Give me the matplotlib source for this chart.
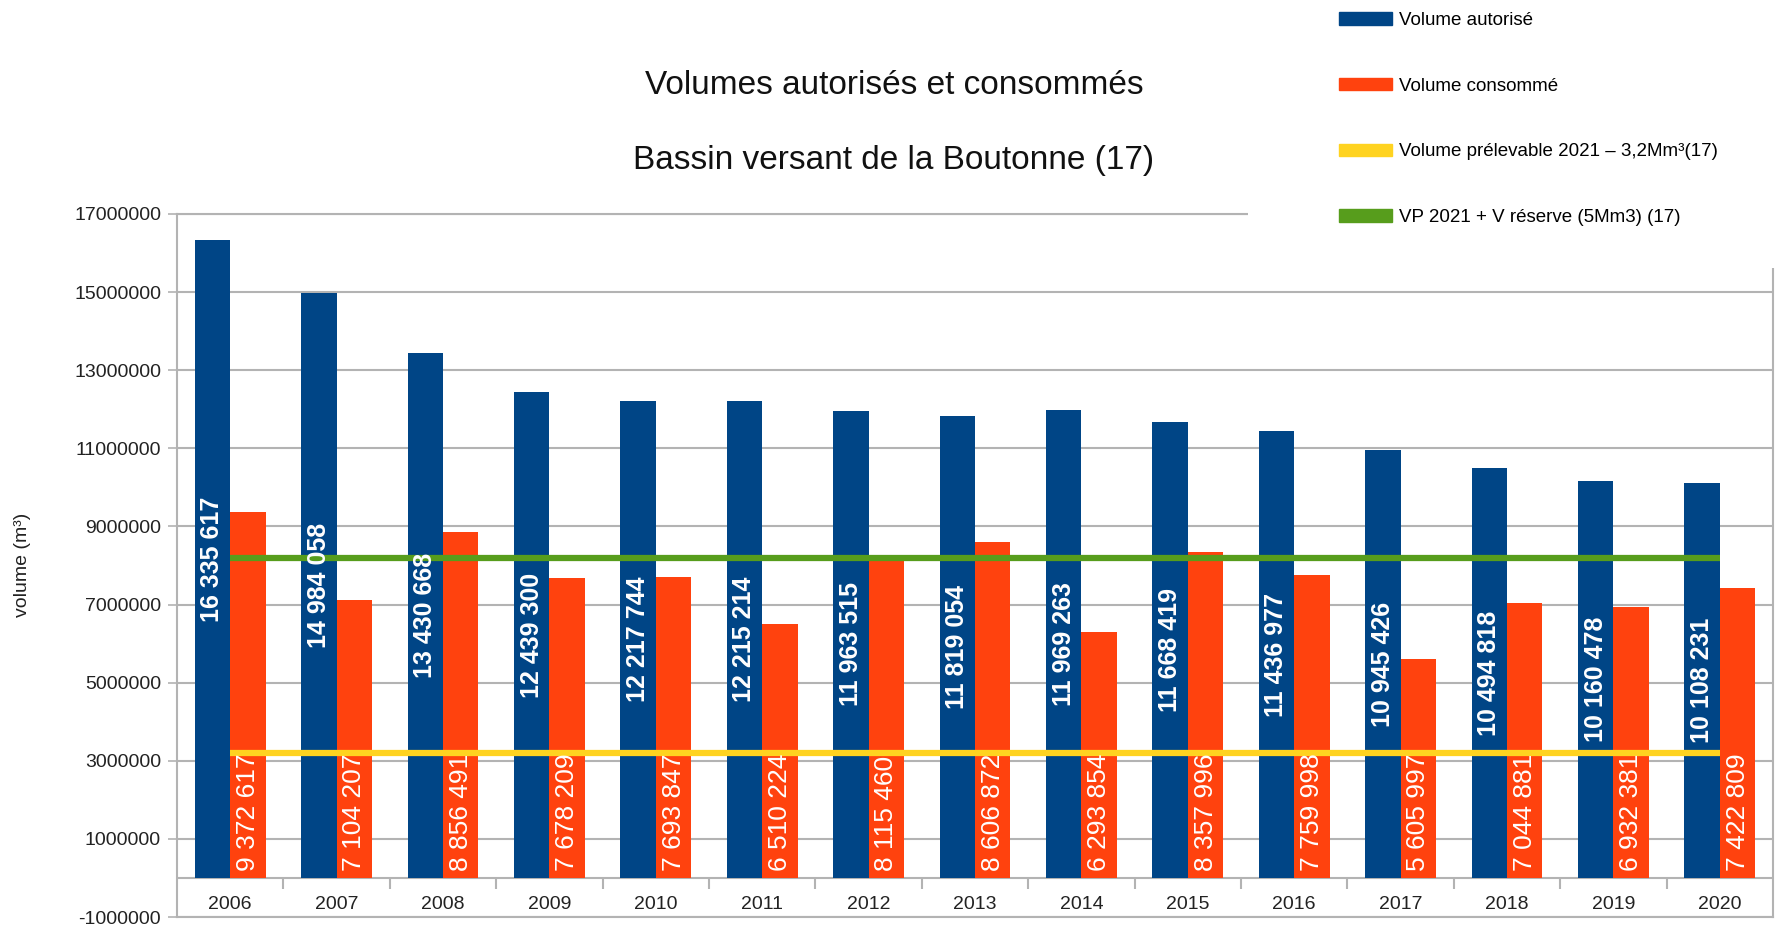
import matplotlib.pyplot as plt
from matplotlib.patches import Patch, Rectangle
from matplotlib.ticker import FuncFormatter
import numpy as np

plt.rcParams['font.family'] = ['Liberation Sans', 'DejaVu Sans']

years = ['2006', '2007', '2008', '2009', '2010', '2011', '2012', '2013',
         '2014', '2015', '2016', '2017', '2018', '2019', '2020']
vol_autorise = [16335617, 14984058, 13430668, 12439300, 12217744, 12215214, 11963515,
                11819054, 11969263, 11668419, 11436977, 10945426, 10494818, 10160478, 10108231]
vol_consomme = [9372617, 7104207, 8856491, 7678209, 7693847, 6510224, 8115460,
                8606872, 6293854, 8357996, 7759998, 5605997, 7044881, 6932381, 7422809]
vp_2021 = [3200000] * len(years)
vp_reserve = [8200000] * len(years)

labels = ['Volume autorisé', 'Volume consommé',
          'Volume prélevable 2021 – 3,2Mm³(17)', 'VP 2021 + V réserve (5Mm3) (17)']
colors = ['#004586', '#ff420e', '#ffd320', '#579d1c']
grey = '#b3b3b3'

W, H = 1779, 926
fig = plt.figure(figsize=(W / 100, H / 100), dpi=100)
ax = fig.add_axes([177 / W, 1 - 917 / H, (1773 - 177) / W, (917 - 214) / H])

x = np.arange(len(years))
bw = 1 / 3
ax.bar(x - bw / 2, vol_autorise, bw, color=colors[0], zorder=2)
ax.bar(x + bw / 2, vol_consomme, bw, color=colors[1], zorder=2)
ax.plot(x, vp_2021, color=colors[2], lw=4.5, solid_capstyle='butt', zorder=3)
ax.plot(x, vp_reserve, color=colors[3], lw=4.5, solid_capstyle='butt', zorder=3)


def fmt(v):
    return f'{v:,}'.replace(',', ' ')


for i in range(len(years)):
    ax.text(x[i] - bw / 2, vol_autorise[i] / 2, fmt(vol_autorise[i]), rotation=90,
            ha='center', va='center', color='white', fontsize=18, fontweight='bold', zorder=4)
    ax.annotate(fmt(vol_consomme[i]), (x[i] + bw / 2, 0), xytext=(0, 5),
                textcoords='offset points', rotation=90, ha='center', va='bottom',
                color='white', fontsize=19, zorder=4)
    ax.text(x[i], -690000, years[i], ha='center', va='center', fontsize=14, color='#222222')

# axe des catégories sur y = 0
ax.axhline(0, color=grey, lw=1.5, zorder=1)
ax.vlines(np.arange(0.5, len(years) - 1, 1), -280000, 0, color=grey, lw=1.5, zorder=1)

ax.set_xlim(-0.5, len(years) - 0.5)
ax.set_ylim(-1000000, 17000000)
ax.set_yticks(np.arange(-1000000, 17000001, 2000000))
ax.yaxis.set_major_formatter(FuncFormatter(lambda v, p: f'{int(round(v))}'))
ax.set_xticks([])
ax.yaxis.grid(True, color=grey, lw=1.5, zorder=0)
ax.set_axisbelow(True)
ax.tick_params(axis='y', length=6.5, width=1.2, color=grey, pad=5, labelsize=14,
               labelcolor='#222222')
for s in ax.spines.values():
    s.set_color(grey)
    s.set_linewidth(1.5)

fig.text(23 / W, 1 - 565 / H, 'volume (m³)', rotation=90, ha='center', va='center',
         fontsize=14, color='#222222')
fig.text(894 / W, 1 - 85 / H, 'Volumes autorisés et consommés', ha='center', va='center',
         fontsize=24, color='#111111')
fig.text(894 / W, 1 - 160 / H, 'Bassin versant de la Boutonne (17)', ha='center',
         va='center', fontsize=24, color='#111111')

# fond blanc de la légende (recouvre le haut du cadre)
fig.patches.append(Rectangle((1248 / W, 1 - 268 / H), (W - 1248) / W, 268 / H,
                             transform=fig.transFigure, facecolor='white',
                             edgecolor='none', zorder=4))
handles = [Patch(color=c) for c in colors]
fig.legend(handles, labels, loc='upper left', bbox_to_anchor=(1339 / W, 1 - 12 / H),
           frameon=False, fontsize=13.5, borderpad=0, handlelength=2.8, handleheight=0.65,
           handletextpad=0.4, labelspacing=2.6, borderaxespad=0)

fig.savefig('out.png', dpi=100)
